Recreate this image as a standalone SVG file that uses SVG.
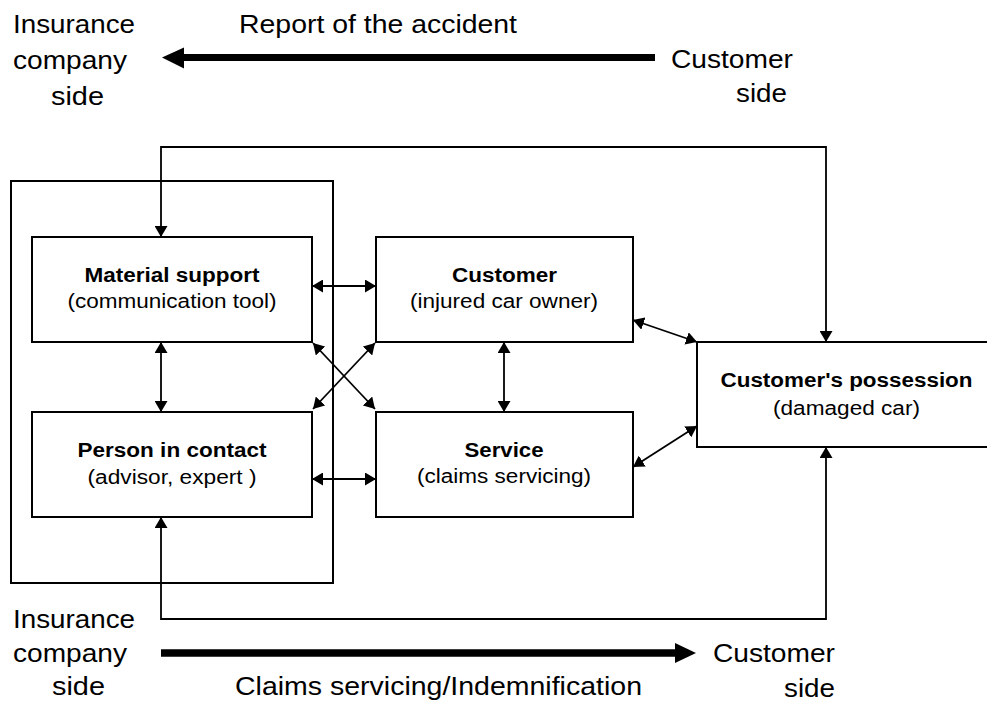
<svg xmlns="http://www.w3.org/2000/svg" width="987" height="705" viewBox="0 0 987 705">
<style>
.box{fill:#fff;stroke:#000;stroke-width:2}
.con{fill:none;stroke:#000;stroke-width:1.8}
.lbl{font-family:"Liberation Sans",Arial,sans-serif;font-size:25px;fill:#000}
.b{font-family:"Liberation Sans",Arial,sans-serif;font-size:20px;font-weight:bold;fill:#000;text-anchor:middle}
.n{font-family:"Liberation Sans",Arial,sans-serif;font-size:20px;fill:#000;text-anchor:middle}
</style>
<defs>
<marker id="ah" markerUnits="userSpaceOnUse" markerWidth="12" markerHeight="13" refX="11" refY="6.5" orient="auto-start-reverse" viewBox="0 0 12 13">
<path d="M0,0 L11,6.5 L0,13 z" fill="#000"/>
</marker>
</defs>
<rect width="987" height="705" fill="#fff"/>

<g id="labels">
<text class="lbl" x="13" y="33" textLength="122" lengthAdjust="spacingAndGlyphs">Insurance</text>
<text class="lbl" x="13" y="69" textLength="114" lengthAdjust="spacingAndGlyphs">company</text>
<text class="lbl" x="51" y="105" textLength="53" lengthAdjust="spacingAndGlyphs">side</text>
<text class="lbl" x="239" y="33" textLength="278" lengthAdjust="spacingAndGlyphs">Report of the accident</text>
<text class="lbl" x="671" y="68" textLength="122" lengthAdjust="spacingAndGlyphs">Customer</text>
<text class="lbl" x="736" y="102" textLength="51" lengthAdjust="spacingAndGlyphs">side</text>
<text class="lbl" x="13" y="628" textLength="122" lengthAdjust="spacingAndGlyphs">Insurance</text>
<text class="lbl" x="13" y="662" textLength="114" lengthAdjust="spacingAndGlyphs">company</text>
<text class="lbl" x="52" y="695" textLength="53" lengthAdjust="spacingAndGlyphs">side</text>
<text class="lbl" x="235" y="695" textLength="407" lengthAdjust="spacingAndGlyphs">Claims servicing/Indemnification</text>
<text class="lbl" x="713" y="662" textLength="122" lengthAdjust="spacingAndGlyphs">Customer</text>
<text class="lbl" x="784" y="697" textLength="51" lengthAdjust="spacingAndGlyphs">side</text>
</g>

<g id="flow-arrows">
<line x1="655" y1="57.5" x2="182" y2="57.5" stroke="#000" stroke-width="7"/>
<polygon points="162,57.5 184,47.5 184,68.5" fill="#000"/>
<line x1="161" y1="653" x2="677" y2="653" stroke="#000" stroke-width="7.5"/>
<polygon points="696,653 675,643 675,663" fill="#000"/>
</g>

<g id="insurer-frame">
<rect class="box" x="11" y="181" width="322" height="402" fill="none"/>
</g>

<g id="material-support">
<rect class="box" x="32" y="237" width="280" height="105"/>
<text class="b" x="172" y="282" textLength="175" lengthAdjust="spacingAndGlyphs">Material support</text>
<text class="n" x="172" y="308" textLength="209" lengthAdjust="spacingAndGlyphs">(communication tool)</text>
</g>

<g id="person-in-contact">
<rect class="box" x="32" y="412" width="280" height="105"/>
<text class="b" x="172" y="457" textLength="189" lengthAdjust="spacingAndGlyphs">Person in contact</text>
<text class="n" x="172" y="484" textLength="169" lengthAdjust="spacingAndGlyphs">(advisor, expert )</text>
</g>

<g id="customer">
<rect class="box" x="376" y="237" width="257" height="105"/>
<text class="b" x="504.5" y="282" textLength="105" lengthAdjust="spacingAndGlyphs">Customer</text>
<text class="n" x="504" y="308" textLength="188" lengthAdjust="spacingAndGlyphs">(injured car owner)</text>
</g>

<g id="service">
<rect class="box" x="376" y="412" width="257" height="105"/>
<text class="b" x="504" y="457" textLength="79" lengthAdjust="spacingAndGlyphs">Service</text>
<text class="n" x="504" y="483" textLength="174" lengthAdjust="spacingAndGlyphs">(claims servicing)</text>
</g>

<g id="customers-possession">
<path d="M987,342 H697 V447 H987" fill="#fff" stroke="#000" stroke-width="2"/>
<text class="b" x="846.5" y="387" textLength="252" lengthAdjust="spacingAndGlyphs">Customer's possession</text>
<text class="n" x="846.5" y="415" textLength="147" lengthAdjust="spacingAndGlyphs">(damaged car)</text>
</g>

<g id="connectors">
<path class="con" d="M161,237 V147 H826 V342" marker-start="url(#ah)" marker-end="url(#ah)"/>
<path class="con" d="M161,517 V619 H826 V447" marker-start="url(#ah)" marker-end="url(#ah)"/>
<line class="con" x1="161" y1="342" x2="161" y2="412" marker-start="url(#ah)" marker-end="url(#ah)"/>
<line class="con" x1="504" y1="342" x2="504" y2="412" marker-start="url(#ah)" marker-end="url(#ah)"/>
<line class="con" x1="312" y1="286" x2="376" y2="286" marker-start="url(#ah)" marker-end="url(#ah)"/>
<line class="con" x1="312" y1="479" x2="376" y2="479" marker-start="url(#ah)" marker-end="url(#ah)"/>
<line class="con" x1="313" y1="343" x2="375" y2="409" marker-start="url(#ah)" marker-end="url(#ah)"/>
<line class="con" x1="375" y1="343" x2="313" y2="409" marker-start="url(#ah)" marker-end="url(#ah)"/>
<line class="con" x1="633" y1="320" x2="697" y2="342" marker-start="url(#ah)" marker-end="url(#ah)"/>
<line class="con" x1="633" y1="467" x2="697" y2="426" marker-start="url(#ah)" marker-end="url(#ah)"/>
</g>
</svg>
